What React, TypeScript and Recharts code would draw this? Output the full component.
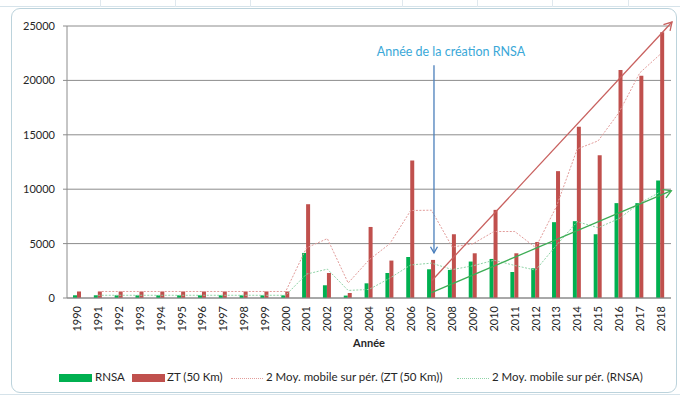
import React from 'react';
import { ComposedChart, Bar, Line, XAxis, YAxis, CartesianGrid, ReferenceLine } from 'recharts';

const years = ['1990','1991','1992','1993','1994','1995','1996','1997','1998','1999','2000','2001','2002','2003','2004','2005','2006','2007','2008','2009','2010','2011','2012','2013','2014','2015','2016','2017','2018'];
const rnsa = [250,250,250,250,250,250,250,250,250,250,250,4140,1170,220,1350,2300,3770,2640,2580,3350,3590,2390,2730,6970,7060,5860,8720,8720,10800];
const zt = [600,600,600,600,600,600,600,600,600,600,600,8620,2300,460,6530,3440,12640,3500,5860,4110,8100,4110,5150,11660,15740,13130,20950,20430,24420];
const maZt = [null,600,600,600,600,600,600,600,600,600,600,4610,5460,1380,3500,4990,8040,8070,4680,4990,6110,6110,4630,8410,13700,14440,17040,20690,22430];
const maRnsa = [null,250,250,250,250,250,250,250,250,250,250,2195,2655,695,785,1825,3035,3205,2610,2965,3470,2990,2560,4850,7015,6460,7290,8720,9760];
const yTicks = [0, 5000, 10000, 15000, 20000, 25000];

// trend arrows (start year/value, end year/value) and annotation arrow
const trendZt = [{ x: '2007', y: 1565 }, { x: '2018', y: 24230 }];
const trendRnsa = [{ x: '2007', y: 500 }, { x: '2018', y: 9440 }];
const creationArrow = [{ x: '2007', y: 21400 }, { x: '2007', y: 4150 }];

const legendItems = ['RNSA', 'ZT (50 Km)', '2 Moy. mobile sur pér. (ZT (50 Km))', '2 Moy. mobile sur pér. (RNSA)'];
const annotationText = 'Année de la création RNSA';
const axisTitle = 'Année';

const data = years.map((y, i) => ({ year: y, rnsa: rnsa[i], zt: zt[i], maZt: maZt[i], maRnsa: maRnsa[i] }));

const FONT = 'Lato, "Open Sans", sans-serif';
const GREEN = '#00B050';
const RED = '#C0504D';

const arrowShape = (color: string, head: number, ext: number, dx: number, withText?: boolean) => (props: any) => {
  const x1 = props.x1 + dx;
  const y1 = props.y1;
  const x2 = props.x2 + dx + (props.x2 - props.x1) * ext;
  const y2 = props.y2 + (props.y2 - props.y1) * ext;
  const ang = Math.atan2(y2 - y1, x2 - x1);
  const spread = Math.PI / 6;
  const ax = x2 - head * Math.cos(ang - spread);
  const ay = y2 - head * Math.sin(ang - spread);
  const bx = x2 - head * Math.cos(ang + spread);
  const by = y2 - head * Math.sin(ang + spread);
  return (
    <g>
      <line x1={x1} y1={y1} x2={x2} y2={y2} stroke={color} strokeWidth={1.3} />
      <polyline points={`${ax},${ay} ${x2},${y2} ${bx},${by}`} fill="none" stroke={color} strokeWidth={1.3} />
      {withText ? (
        <text x={x1 + 17} y={y1 - 9} textAnchor="middle" fill="#3AA8D8" fontSize={12.5} fontFamily={FONT}>{annotationText}</text>
      ) : null}
    </g>
  );
};

const YearTick = (props: any) => {
  const { x, y, payload } = props;
  return (
    <g transform={`translate(${x},${y})`}>
      <text transform="rotate(-90)" textAnchor="end" dy="0.36em" x={0} y={0} fill="#262626" fontSize={11} fontFamily={FONT}>
        {payload.value}
      </text>
    </g>
  );
};

const legendText: React.CSSProperties = { position: 'absolute', top: 370, fontSize: 11.5, color: '#262626', whiteSpace: 'nowrap' };

export default function App() {
  return (
    <div style={{ position: 'absolute', left: 0, top: 0, width: 680, height: 400, background: '#fff', fontFamily: FONT, overflow: 'hidden' }}>
      {/* spreadsheet background */}
      <div style={{ position: 'absolute', left: 0, top: 6, width: 680, height: 1, background: '#d6e3ea' }} />
      <div style={{ position: 'absolute', left: 100, top: 0, width: 1, height: 7, background: '#dfe8ee' }} />
      <div style={{ position: 'absolute', left: 175, top: 0, width: 1, height: 7, background: '#dfe8ee' }} />
      <div style={{ position: 'absolute', left: 250, top: 0, width: 1, height: 7, background: '#dfe8ee' }} />
      <div style={{ position: 'absolute', left: 402, top: 0, width: 1, height: 7, background: '#dfe8ee' }} />
      <div style={{ position: 'absolute', left: 477, top: 0, width: 1, height: 7, background: '#dfe8ee' }} />
      <div style={{ position: 'absolute', left: 552, top: 0, width: 1, height: 7, background: '#dfe8ee' }} />
      <div style={{ position: 'absolute', left: 628, top: 0, width: 1, height: 7, background: '#dfe8ee' }} />
      <div style={{ position: 'absolute', left: 0, top: 394, width: 680, height: 1, background: '#d6e3ea' }} />
      {/* chart frame */}
      <div style={{ position: 'absolute', left: 11, top: 8, width: 666, height: 385, border: '1px solid #bcd3dc', borderRadius: 9, background: '#fff', boxSizing: 'border-box' }} />
      <div style={{ position: 'absolute', left: 0, top: 0 }}>
        <ComposedChart width={680} height={400} data={data} margin={{ top: 26, right: 9, left: 0, bottom: 42 }} barGap={0}>
          <CartesianGrid vertical={false} stroke="#8c8c8c" />
          <XAxis dataKey="year" height={60} interval={0} tick={<YearTick />} tickLine={false} axisLine={{ stroke: '#8c8c8c' }} />
          <YAxis width={67} domain={[0, 25000]} ticks={yTicks} interval={0} tickSize={4} tickMargin={8}
            tick={{ fill: '#262626', fontSize: 11, fontFamily: FONT }} axisLine={{ stroke: '#8c8c8c' }} tickLine={{ stroke: '#8c8c8c' }} />
          <Bar dataKey="rnsa" fill={GREEN} barSize={4} isAnimationActive={false} />
          <Bar dataKey="zt" fill={RED} barSize={4} isAnimationActive={false} />
          <Line dataKey="maZt" stroke="#E29C9A" strokeWidth={1} strokeDasharray="2 1.5" dot={false} type="linear" isAnimationActive={false} connectNulls={false} />
          <Line dataKey="maRnsa" stroke="#8FD3A6" strokeWidth={1} strokeDasharray="2 1.5" dot={false} type="linear" isAnimationActive={false} connectNulls={false} />
          <ReferenceLine ifOverflow="visible" segment={trendZt} shape={arrowShape('#C8605E', 9, 0.05, 0)} />
          <ReferenceLine ifOverflow="visible" segment={trendRnsa} shape={arrowShape('#3DAD55', 9, 0.047, 0)} />
          <ReferenceLine ifOverflow="visible" segment={creationArrow} shape={arrowShape('#4A7EBB', 7, 0, 2.5, true)} />
        </ComposedChart>
      </div>
      {/* axis title */}
      <div style={{ position: 'absolute', left: 369, top: 336, transform: 'translateX(-50%)', fontSize: 11, fontWeight: 700, color: '#262626', whiteSpace: 'nowrap' }}>{axisTitle}</div>
      {/* legend */}
      <div style={{ position: 'absolute', left: 59, top: 374, width: 33, height: 8, background: GREEN }} />
      <div style={{ ...legendText, left: 95 }}>{legendItems[0]}</div>
      <div style={{ position: 'absolute', left: 132, top: 374, width: 33, height: 8, background: RED }} />
      <div style={{ ...legendText, left: 167 }}>{legendItems[1]}</div>
      <div style={{ position: 'absolute', left: 231, top: 378, width: 32, height: 0, borderTop: '1px dotted #E29C9A' }} />
      <div style={{ ...legendText, left: 266 }}>{legendItems[2]}</div>
      <div style={{ position: 'absolute', left: 457, top: 378, width: 32, height: 0, borderTop: '1px dotted #8FD3A6' }} />
      <div style={{ ...legendText, left: 492 }}>{legendItems[3]}</div>
    </div>
  );
}
